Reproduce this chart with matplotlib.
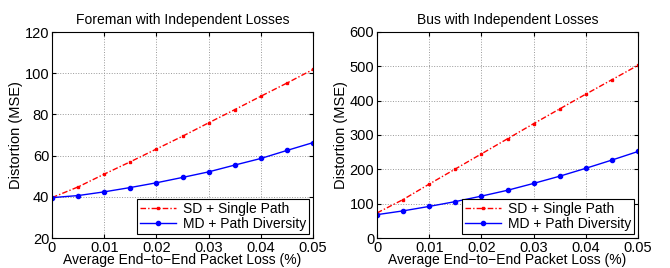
import matplotlib
matplotlib.use('Agg')
import matplotlib.pyplot as plt

plt.rcParams['font.family'] = ['Liberation Sans', 'DejaVu Sans']

loss = [0, 0.005, 0.01, 0.015, 0.02, 0.025, 0.03, 0.035, 0.04, 0.045, 0.05]

# Foreman
foreman_sd = [39.6, 44.8, 51.0, 57.0, 63.2, 69.4, 75.9, 82.3, 88.8, 95.2, 101.8]
foreman_md = [39.6, 40.6, 42.4, 44.5, 46.8, 49.4, 52.1, 55.4, 58.6, 62.5, 66.3]

# Bus
bus_sd = [73, 112, 157, 201, 245, 289, 333, 376, 419, 461, 503]
bus_md = [68, 79, 92, 106, 122, 139, 159, 180, 203, 227, 252]

titles = ['Foreman with Independent Losses', 'Bus with Independent Losses']
ylims = [(20, 120), (0, 600)]
yticks = [range(20, 121, 20), range(0, 601, 100)]

fig = plt.figure(figsize=(6.7, 2.68), dpi=100)
axes = [fig.add_axes([52 / 670, 30 / 268, 261 / 670, 206 / 268]),
        fig.add_axes([377 / 670, 30 / 268, 261 / 670, 206 / 268])]

for ax, sd, md, title, yl, yt in zip(axes, [foreman_sd, bus_sd], [foreman_md, bus_md],
                                     titles, ylims, yticks):
    ax.plot(loss, sd, color='red', linestyle='-.', linewidth=1.0,
            marker='s', markersize=1.8, label='SD + Single Path', dashes=(4, 1.5, 1, 1.5))
    ax.plot(loss, md, color='blue', linestyle='-', linewidth=1.0,
            marker='o', markersize=3, markerfacecolor='blue', markeredgecolor='blue',
            label='MD + Path Diversity')
    ax.set_xlim(0, 0.05)
    ax.set_ylim(*yl)
    ax.set_xticks([0, 0.01, 0.02, 0.03, 0.04, 0.05])
    ax.set_xticklabels(['0', '0.01', '0.02', '0.03', '0.04', '0.05'])
    ax.set_yticks(list(yt))
    ax.grid(True, linestyle=':', color='#999999', linewidth=0.7)
    ax.tick_params(direction='in', labelsize=10.5, length=3, top=True, right=True, pad=2)
    ax.set_title(title, fontsize=10, pad=6)
    ax.set_ylabel('Distortion (MSE)', fontsize=10.5, labelpad=1)
    ax.set_xlabel('Average End\u2212to\u2212End Packet Loss (%)', fontsize=10, labelpad=-1)
    leg = ax.legend(loc='lower right', fontsize=10, fancybox=False, framealpha=1,
                    edgecolor='black', borderaxespad=0.3, handlelength=2.6,
                    handletextpad=0.5, borderpad=0.2, labelspacing=0.1)
    leg.get_frame().set_linewidth(0.8)

fig.savefig('out.png', dpi=100)
